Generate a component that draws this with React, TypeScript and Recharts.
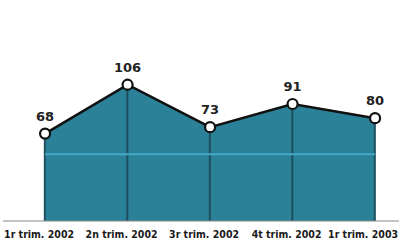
import React from 'react';
import { ComposedChart, Area, Bar, XAxis, YAxis, ReferenceLine, LabelList } from 'recharts';

const categories = ['1r trim. 2002', '2n trim. 2002', '3r trim. 2002', '4t trim. 2002', '1r trim. 2003'];
const values = [68, 106, 73, 91, 80];
const gridValue = 52;

const data = categories.map((c, i) => ({ idx: i, name: c, value: values[i] }));

const Tick = (props: any) => {
  const { x, y, payload } = props;
  const last = payload.value === categories.length - 1;
  return (
    <text x={x - (last ? 12 : 6)} y={y} dy={9} textAnchor="middle"
      style={{ fontFamily: '"DejaVu Sans Condensed", "Liberation Sans Narrow", sans-serif', fontWeight: 700, fontSize: 10.5, fill: '#1a1a1a' }}>
      {categories[payload.value]}
    </text>
  );
};

const Dot = (props: any) => {
  const { cx, cy } = props;
  return <circle cx={cx} cy={cy} r={5} fill="#fff" stroke="#111" strokeWidth={2.2} />;
};

export default function App() {
  return (
    <div style={{ position: 'absolute', left: 0, top: 0, background: '#fff' }}>
      <ComposedChart width={399} height={243} data={data} margin={{ top: 41, right: 0, bottom: 0, left: 3 }}>
        <XAxis dataKey="idx" type="number" domain={[-0.51, 4.29]} ticks={[0, 1, 2, 3, 4]}
          tick={<Tick />} tickLine={false} axisLine={{ stroke: '#888', strokeWidth: 1 }} height={22} interval={0} />
        <YAxis hide domain={[0, 140]} />
        <Area dataKey="value" type="linear" fill="#2a8198" fillOpacity={1} stroke="none" isAnimationActive={false} />
        <ReferenceLine segment={[{ x: 0, y: gridValue }, { x: 4, y: gridValue }]} stroke="#45a8c4" strokeWidth={2} />
        <Bar dataKey="value" barSize={2} fill="#1d4f5e" isAnimationActive={false} />
        <Area dataKey="value" type="linear" fill="none" stroke="#111" strokeWidth={2.5} isAnimationActive={false}
          dot={<Dot />} activeDot={false}>
          <LabelList dataKey="value" position="top" offset={13}
            style={{ fontFamily: '"DejaVu Sans", sans-serif', fontWeight: 700, fontSize: 13, fill: '#222' }} />
        </Area>
      </ComposedChart>
    </div>
  );
}
